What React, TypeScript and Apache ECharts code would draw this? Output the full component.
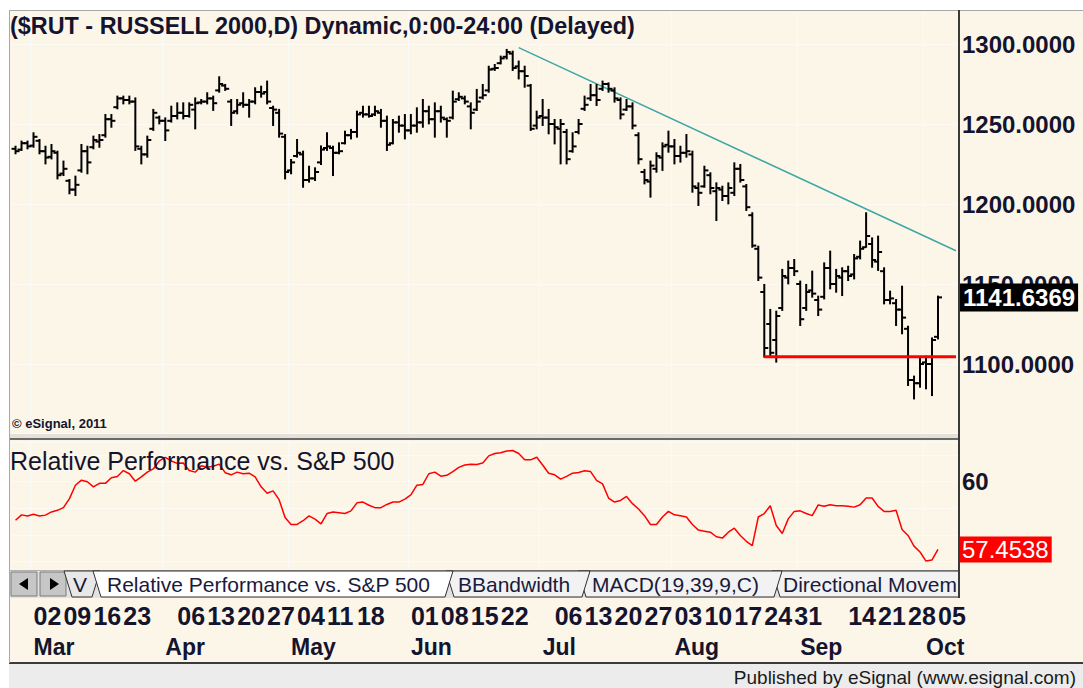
import React, { useEffect, useRef } from "react";
import * as echarts from "echarts";

// ---- categories (2015 trading days, MM-DD) ----
const dates = [
  "02-25","02-26","02-27",
  "03-02","03-03","03-04","03-05","03-06","03-09","03-10","03-11","03-12","03-13",
  "03-16","03-17","03-18","03-19","03-20","03-23","03-24","03-25","03-26","03-27","03-30","03-31",
  "04-01","04-02","04-06","04-07","04-08","04-09","04-10","04-13","04-14","04-15","04-16","04-17",
  "04-20","04-21","04-22","04-23","04-24","04-27","04-28","04-29","04-30",
  "05-01","05-04","05-05","05-06","05-07","05-08","05-11","05-12","05-13","05-14","05-15",
  "05-18","05-19","05-20","05-21","05-22","05-26","05-27","05-28","05-29",
  "06-01","06-02","06-03","06-04","06-05","06-08","06-09","06-10","06-11","06-12",
  "06-15","06-16","06-17","06-18","06-19","06-22","06-23","06-24","06-25","06-26","06-29","06-30",
  "07-01","07-02","07-06","07-07","07-08","07-09","07-10","07-13","07-14","07-15","07-16","07-17",
  "07-20","07-21","07-22","07-23","07-24","07-27","07-28","07-29","07-30","07-31",
  "08-03","08-04","08-05","08-06","08-07","08-10","08-11","08-12","08-13","08-14",
  "08-17","08-18","08-19","08-20","08-21","08-24","08-25","08-26","08-27","08-28","08-31",
  "09-01","09-02","09-03","09-04","09-08","09-09","09-10","09-11",
  "09-14","09-15","09-16","09-17","09-18","09-21","09-22","09-23","09-24","09-25",
  "09-28","09-29","09-30","10-01","10-02","10-05"
];
const padCats = ["pad1", "pad2", "pad3"];

// ---- $RUT daily OHLC ----
const opens = [
  1234.5,1234.0,1238.0,
  1236.5,1239.5,1233.0,1229.5,1232.0,1219.0,1214.5,1209.0,1221.0,1233.0,
  1235.5,1239.0,1243.0,1253.0,1260.5,1266.0,1265.0,1264.0,1234.5,1231.0,1247.0,1254.0,
  1252.0,1252.0,1255.0,1257.0,1255.0,1259.0,1263.5,1264.0,1266.0,1271.0,1274.0,1264.0,
  1258.0,1263.0,1262.0,1264.0,1270.0,1270.0,1260.0,1257.0,1242.0,
  1221.0,1230.0,1231.0,1215.0,1216.0,1226.0,1235.0,1235.0,1232.0,1238.0,1243.0,
  1245.0,1257.0,1256.0,1256.0,1257.0,1252.0,1238.0,1251.0,1249.0,
  1246.0,1249.0,1251.0,1258.0,1253.0,1258.0,1253.0,1254.0,1265.5,1266.0,
  1261.0,1259.0,1266.5,1271.0,1284.5,1288.0,1292.0,1294.0,1286.0,1283.0,1274.0,1249.0,
  1255.0,1254.0,1250.0,1247.0,1245.0,1233.0,1245.0,1259.5,1266.0,1268.0,1272.0,1275.0,
  1271.0,1265.0,1259.0,1261.0,1243.0,1220.0,1214.0,1222.0,1229.0,1237.0,
  1236.0,1230.0,1232.0,1231.0,1210.0,1211.0,1218.0,1208.0,1209.0,1205.0,
  1207.0,1222.0,1211.0,1193.0,1172.0,1145.0,1125.0,1115.0,1135.0,1154.0,1160.0,
  1150.0,1135.0,1146.0,1140.0,1142.0,1160.0,1150.0,1154.0,
  1158.0,1156.0,1167.0,1173.0,1175.0,1164.0,1158.0,1140.0,1138.0,1134.0,
  1122.0,1090.0,1088.0,1101.0,1100.0,1117.0
];
const highs = [
  1235.8,1239.0,1239.0,
  1244.2,1240.0,1235.8,1236.9,1232.7,1226.5,1215.0,1217.1,1236.9,1235.8,
  1242.1,1243.1,1255.6,1255.6,1267.1,1267.1,1267.1,1266.0,1235.8,1242.1,1258.8,1254.6,
  1253.5,1260.8,1262.9,1262.9,1262.9,1266.0,1265.0,1269.2,1267.1,1279.2,1274.4,1265.0,
  1265.0,1269.2,1265.0,1272.3,1273.3,1276.5,1260.8,1258.8,1243.1,
  1227.5,1240.0,1232.7,1223.3,1222.3,1236.0,1244.2,1235.8,1237.9,1245.2,1246.3,
  1257.7,1260.8,1260.8,1260.8,1258.8,1254.6,1252.5,1254.6,1255.6,
  1255.6,1259.8,1265.0,1260.8,1262.9,1260.8,1253.5,1270.2,1269.2,1267.1,
  1262.9,1271.3,1274.4,1285.8,1286.9,1292.1,1296.3,1295.2,1289.0,1285.8,1274.4,1257.7,
  1265.0,1258.8,1252.5,1252.5,1246.3,1244.2,1252.5,1267.1,1274.4,1274.4,1276.5,1275.4,
  1272.3,1266.0,1265.0,1262.9,1244.2,1221.3,1226.5,1231.7,1237.9,1245.2,
  1240.0,1235.8,1243.1,1232.7,1212.9,1223.3,1219.2,1212.9,1210.8,1212.9,
  1225.4,1224.4,1211.9,1194.2,1173.3,1149.4,1133.8,1132.7,1158.8,1164.0,1165.0,
  1151.5,1149.4,1157.7,1142.1,1162.9,1170.2,1158.8,1159.8,
  1160.8,1168.1,1176.5,1194.2,1178.5,1179.6,1159.8,1145.2,1140.0,1148.3,
  1123.3,1092.1,1103.5,1104.6,1116.0,1142.1
];
const lows = [
  1231.7,1233.8,1234.8,
  1235.8,1231.7,1225.4,1228.5,1216.0,1218.1,1206.7,1205.6,1220.2,1219.2,
  1234.8,1235.8,1242.1,1248.3,1259.8,1262.9,1262.9,1233.8,1225.4,1229.6,1246.3,1250.4,
  1240.0,1251.5,1253.5,1253.5,1254.6,1247.3,1262.9,1262.9,1258.8,1270.2,1271.3,1249.4,
  1256.7,1260.8,1254.6,1262.9,1267.1,1262.9,1249.4,1242.1,1216.0,
  1219.2,1229.6,1210.8,1214.0,1215.0,1225.0,1233.8,1218.1,1231.7,1237.9,1241.0,
  1242.1,1254.6,1254.6,1255.6,1248.3,1233.8,1237.9,1245.2,1241.0,
  1244.2,1245.2,1248.3,1250.4,1242.1,1251.5,1242.1,1253.5,1265.0,1262.9,
  1247.3,1258.8,1266.0,1270.2,1283.8,1287.9,1291.0,1283.8,1278.5,1273.3,1246.3,1247.3,
  1249.4,1244.2,1237.9,1225.4,1225.4,1232.7,1244.2,1258.8,1265.0,1261.9,1271.3,1270.2,
  1264.0,1253.5,1258.8,1247.3,1225.4,1212.9,1204.6,1220.2,1221.3,1232.7,
  1225.4,1226.5,1229.6,1207.7,1199.4,1210.8,1206.7,1190.0,1202.5,1200.4,
  1205.6,1214.0,1196.3,1173.3,1152.5,1104.6,1104.6,1101.5,1133.8,1150.4,1155.6,
  1124.4,1133.8,1142.1,1130.6,1141.0,1147.3,1145.2,1143.1,
  1152.5,1153.5,1166.0,1173.3,1160.8,1158.8,1137.9,1137.9,1124.4,1119.2,
  1086.9,1078.5,1085.8,1084.8,1080.6,1116.0
];
const closes = [
  1233.0,1238.0,1236.0,
  1242.0,1233.0,1229.0,1233.0,1218.0,1222.0,1209.0,1212.0,1233.0,1226.0,
  1240.0,1240.0,1253.0,1252.0,1266.0,1265.0,1264.0,1236.0,1231.0,1240.0,1257.0,1252.0,
  1246.0,1255.0,1257.0,1255.0,1262.0,1263.0,1264.0,1266.0,1263.0,1275.0,1272.0,1257.0,
  1262.0,1262.0,1264.0,1270.0,1269.0,1264.0,1259.0,1244.0,1220.0,
  1226.0,1232.0,1215.0,1216.0,1220.0,1234.0,1236.0,1232.0,1233.0,1243.0,1245.0,
  1256.0,1256.0,1255.0,1258.0,1252.0,1237.0,1251.0,1249.0,1246.0,
  1249.0,1251.0,1258.0,1253.0,1258.0,1254.0,1252.0,1264.0,1267.0,1264.0,
  1257.0,1264.0,1268.0,1284.0,1285.0,1291.0,1295.0,1285.0,1283.0,1280.0,1247.0,1254.0,
  1254.0,1250.0,1248.0,1250.0,1228.0,1236.0,1250.0,1262.0,1268.0,1265.0,1275.0,1272.0,
  1266.0,1256.0,1261.0,1249.0,1228.0,1215.0,1224.0,1230.0,1236.0,1236.0,
  1230.0,1232.0,1233.0,1211.0,1207.0,1221.0,1210.0,1210.0,1205.0,1210.0,
  1222.0,1215.0,1198.0,1174.0,1154.0,1110.0,1107.0,1130.0,1155.0,1160.0,1158.0,
  1128.0,1145.0,1144.0,1134.0,1160.0,1150.0,1155.0,1158.0,
  1155.0,1166.0,1172.0,1180.0,1165.0,1170.0,1140.0,1141.0,1134.0,1129.0,
  1090.0,1088.0,1100.0,1100.0,1115.0,1141.6369
];

// ---- Relative Performance vs. S&P 500 ----
const relPerf = [
  58.55,58.75,58.71,
  58.77,58.71,58.74,58.86,58.92,59.02,59.36,59.86,60.05,59.99,
  59.80,59.93,59.93,60.14,60.19,60.41,60.29,60.01,60.17,60.35,60.47,60.77,
  60.90,60.77,60.68,60.69,60.41,60.35,60.59,60.53,60.57,60.65,60.33,60.25,
  60.35,60.29,60.31,60.17,59.80,59.56,59.65,59.32,58.65,
  58.39,58.39,58.53,58.71,58.59,58.41,58.80,58.86,58.83,58.80,58.90,
  59.20,59.23,59.11,59.02,59.02,59.14,59.23,59.23,59.34,
  59.50,59.86,59.89,60.29,60.35,60.20,60.23,60.37,60.53,60.62,
  60.65,60.64,60.69,60.96,61.05,61.08,61.14,61.16,61.05,60.81,60.81,60.91,
  60.62,60.31,60.25,60.09,60.19,60.31,60.34,60.40,60.37,60.04,59.91,59.38,
  59.23,59.29,59.44,59.17,58.97,58.72,58.39,58.39,58.67,58.88,
  58.75,58.72,58.67,58.39,58.18,58.14,58.10,57.93,57.88,58.10,
  58.25,57.98,57.76,57.60,58.67,58.80,59.09,58.35,58.05,58.60,58.88,
  58.90,58.80,58.72,59.12,59.07,59.13,59.09,59.09,
  59.07,59.04,59.13,59.38,59.38,59.07,58.88,58.88,58.92,58.20,
  57.98,57.58,57.36,57.02,57.06,57.4538
];

// ---- annotations / tick labels ----
const trendLine = [["06-25", 1297.7], ["pad3", 1170.8]];
const supportLine = [["08-24", 1104.5], ["pad3", 1104.5]];
const lastPrice = 1141.6369;
const lastRel = 57.4538;
const priceTicks = [1100, 1150, 1200, 1250, 1300];
const relTicks = [60];
const dayTickDates = [
  "03-02","03-09","03-16","03-23","04-06","04-13","04-20","04-27",
  "05-04","05-11","05-18","06-01","06-08","06-15","06-22",
  "07-06","07-13","07-20","07-27","08-03","08-10","08-17","08-24","08-31",
  "09-14","09-21","09-28","10-05"
];
const monthStartDates = ["03-02","04-01","05-01","06-01","07-01","08-03","09-01","10-01"];
const monthNames = ["Mar","Apr","May","Jun","Jul","Aug","Sep","Oct"];

const FONT = '"Liberation Sans", Arial, Helvetica, sans-serif';
const CREAM = "#fcf6e9";
const INK = "#14142e";

export default function App() {
  const ref = useRef<HTMLDivElement>(null);

  useEffect(() => {
    document.body.style.margin = "0";
    const chart = echarts.init(ref.current as HTMLDivElement, null, { renderer: "svg" });
    const cats = [...dates, ...padCats];
    const ohlc = dates.map((d, i) => [i, opens[i], highs[i], lows[i], closes[i]]);
    const rel = dates.map((d, i) => [i, relPerf[i]]);
    const gridLeft = 12.54;
    const gridWidth = 946.42;

    const monthSplit = (idx: number, val: string) => monthStartDates.includes(val);
    const splitStyle = { color: "#ffffff", type: "dotted" as const, width: 1 };

    const tabPoly = (points: number[][], fill: string, z: number) => ({
      type: "polygon", z, shape: { points },
      style: { fill, stroke: "#303030", lineWidth: 1 },
    });
    const tab = (x1: number, x2: number, fill: string, z: number) =>
      tabPoly([[x1, 571], [x2, 571], [x2 - 8, 597], [x1 + 8, 597]], fill, z);
    const tabText = (x: number, text: string, z: number) => ({
      type: "text", z, x, y: 584,
      style: { text, fill: "#1a1a3c", font: `21px ${FONT}`, verticalAlign: "middle", align: "left" },
    });

    const option: any = {
      animation: false,
      backgroundColor: CREAM,
      grid: [
        { left: gridLeft, width: gridWidth, top: 10, height: 423, outerBoundsMode: "none" },
        { left: gridLeft, width: gridWidth, top: 442, height: 128, outerBoundsMode: "none" },
      ],
      xAxis: [
        {
          type: "category", gridIndex: 0, data: cats, boundaryGap: true,
          axisLine: { show: false }, axisTick: { show: false }, axisLabel: { show: false },
          splitLine: { show: true, interval: monthSplit, lineStyle: splitStyle },
        },
        {
          type: "category", gridIndex: 1, data: cats, boundaryGap: true, position: "bottom",
          axisLine: { show: false }, axisTick: { show: false },
          splitLine: { show: true, interval: monthSplit, lineStyle: splitStyle },
          axisLabel: {
            interval: (idx: number, val: string) => dayTickDates.includes(val),
            formatter: (val: string) => val.slice(3, 5),
            align: "left", verticalAlign: "middle", margin: 46,
            fontFamily: FONT, fontSize: 25, fontWeight: "bold", color: INK,
          },
        },
        {
          type: "category", gridIndex: 1, data: cats, boundaryGap: true, position: "bottom",
          axisLine: { show: false }, axisTick: { show: false }, splitLine: { show: false },
          axisLabel: {
            interval: (idx: number, val: string) => monthStartDates.includes(val),
            formatter: (val: string) => monthNames[monthStartDates.indexOf(val)] || "",
            align: "left", verticalAlign: "middle", margin: 77,
            fontFamily: FONT, fontSize: 23, fontWeight: "bold", color: INK,
          },
        },
      ],
      yAxis: [
        {
          type: "value", gridIndex: 0, position: "right", min: 1056.875, max: 1321.25, scale: true,
          axisLine: { show: false }, axisTick: { show: false },
          splitLine: { show: true, lineStyle: splitStyle },
          axisLabel: {
            margin: 3, fontFamily: FONT, fontSize: 24, fontWeight: "bold", color: INK,
            formatter: (v: number) => (priceTicks.includes(Math.round(v * 1000) / 1000) ? v.toFixed(4) : ""),
          },
        },
        {
          type: "value", gridIndex: 1, position: "right", min: 56.685, max: 61.479, scale: true,
          axisLine: { show: false }, axisTick: { show: false },
          splitLine: { show: true, lineStyle: splitStyle },
          axisLabel: {
            margin: 3, fontFamily: FONT, fontSize: 24, fontWeight: "bold", color: INK,
            formatter: (v: number) => (relTicks.includes(Math.round(v * 1000) / 1000) ? String(v) : ""),
          },
        },
      ],
      series: [
        {
          type: "custom", name: "RUT", xAxisIndex: 0, yAxisIndex: 0,
          data: ohlc, encode: { x: 0, y: [1, 2, 3, 4] }, z: 3,
          renderItem: (params: any, api: any) => {
            const i = api.value(0);
            const o = api.coord([i, api.value(1)]);
            const h = api.coord([i, api.value(2)]);
            const l = api.coord([i, api.value(3)]);
            const c = api.coord([i, api.value(4)]);
            const x = h[0];
            const style = { stroke: "#000000", lineWidth: 2 };
            return {
              type: "group",
              children: [
                { type: "line", shape: { x1: x, y1: h[1] - 1, x2: x, y2: l[1] + 1 }, style },
                { type: "line", shape: { x1: x - 4, y1: o[1], x2: x, y2: o[1] }, style },
                { type: "line", shape: { x1: x, y1: c[1], x2: x + 4, y2: c[1] }, style },
              ],
            };
          },
        },
        {
          type: "line", name: "trend", xAxisIndex: 0, yAxisIndex: 0, data: trendLine,
          symbol: "none", lineStyle: { color: "#3ea6a6", width: 1.5 }, z: 2, silent: true,
        },
        {
          type: "line", name: "support", xAxisIndex: 0, yAxisIndex: 0, data: supportLine,
          symbol: "none", lineStyle: { color: "#ff0000", width: 3 }, z: 4, silent: true,
          markLine: {
            silent: true, symbol: ["none", "none"], z: 10,
            lineStyle: { color: "rgba(0,0,0,0)", width: 0, type: "solid" },
            label: {
              show: true, position: "end", distance: 1, formatter: lastPrice.toFixed(4),
              backgroundColor: "#000000", color: "#ffffff", fontFamily: FONT, fontSize: 24,
              fontWeight: "bold", padding: [3, 3, 1, 3],
            },
            emphasis: { disabled: true },
            data: [{ yAxis: lastPrice }],
          },
        },
        {
          type: "line", name: "Relative Performance", xAxisIndex: 1, yAxisIndex: 1, data: rel,
          symbol: "none", lineStyle: { color: "#ff0000", width: 1.5 }, silent: true, z: 4,
          markLine: {
            silent: true, symbol: ["none", "none"], z: 10,
            lineStyle: { color: "rgba(0,0,0,0)", width: 0, type: "solid" },
            label: {
              show: true, position: "end", distance: 1, formatter: lastRel.toFixed(4),
              backgroundColor: "#ff0000", color: "#ffffff", fontFamily: FONT, fontSize: 24,
              padding: [2, 3, 0, 2],
            },
            emphasis: { disabled: true },
            data: [{ yAxis: lastRel }],
          },
        },
      ],
      graphic: [
        // page margins and frame
        { type: "rect", z: 50, shape: { x: 0, y: 0, width: 1083, height: 10 }, style: { fill: "#ffffff" } },
        { type: "rect", z: 50, shape: { x: 0, y: 0, width: 9, height: 688 }, style: { fill: "#ffffff" } },
        { type: "line", z: 51, shape: { x1: 9, y1: 10.5, x2: 1083, y2: 10.5 }, style: { stroke: "#a8a8a8", lineWidth: 1 } },
        { type: "line", z: 51, shape: { x1: 9.5, y1: 10, x2: 9.5, y2: 663 }, style: { stroke: "#a8a8a8", lineWidth: 1 } },
        // panel separator
        { type: "rect", z: 50, shape: { x: 10, y: 434, width: 949, height: 4 }, style: { fill: "#e4e1da" } },
        { type: "rect", z: 50, shape: { x: 10, y: 438, width: 949, height: 2 }, style: { fill: "#6a6a6a" } },
        // tab bar
        { type: "rect", z: 50, shape: { x: 10, y: 570, width: 949, height: 28 }, style: { fill: "#e2e2e2" } },
        { type: "line", z: 51, shape: { x1: 10, y1: 570.5, x2: 959, y2: 570.5 }, style: { stroke: "#b0b0b0", lineWidth: 1 } },
        { type: "rect", z: 52, shape: { x: 11, y: 572, width: 26, height: 24 }, style: { fill: "#c6c6c6", stroke: "#7a7a7a", lineWidth: 1 } },
        { type: "rect", z: 52, shape: { x: 40, y: 572, width: 26, height: 24 }, style: { fill: "#c6c6c6", stroke: "#7a7a7a", lineWidth: 1 } },
        { type: "polygon", z: 53, shape: { points: [[19, 584], [28, 578], [28, 590]] }, style: { fill: "#000000" } },
        { type: "polygon", z: 53, shape: { points: [[50, 578], [59, 584], [50, 590]] }, style: { fill: "#000000" } },
        tab(64, 100, "#e8e8e8", 52), tabText(73, "V", 53),
        tabPoly([[772, 571], [959, 571], [959, 597], [780, 597]], "#f2f2f2", 54), tabText(783, "Directional Movem", 55),
        tab(578, 782, "#f2f2f2", 56), tabText(592, "MACD(19,39,9,C)", 57),
        tab(446, 590, "#f2f2f2", 58), tabText(458, "BBandwidth", 59),
        tab(93, 453, "#ffffff", 60), tabText(107, "Relative Performance vs. S&P 500", 61),
        // right axis rule
        { type: "line", z: 63, shape: { x1: 959, y1: 10, x2: 959, y2: 598 }, style: { stroke: "#3a3a3a", lineWidth: 2 } },
        // footer
        { type: "line", z: 50, shape: { x1: 9, y1: 663, x2: 1083, y2: 663 }, style: { stroke: "#3a3a3a", lineWidth: 2 } },
        { type: "rect", z: 50, shape: { x: 9, y: 664, width: 1074, height: 24 }, style: { fill: "#ececec" } },
        { type: "text", z: 51, x: 1076, y: 677, style: { text: "Published by eSignal (www.esignal.com)", fill: "#1a1a1a", font: `19px ${FONT}`, align: "right", verticalAlign: "middle" } },
        // titles
        { type: "text", z: 40, x: 10, y: 26, style: { text: "($RUT - RUSSELL 2000,D) Dynamic,0:00-24:00 (Delayed)", fill: INK, font: `bold 23.4px ${FONT}`, verticalAlign: "middle" } },
        { type: "text", z: 40, x: 12, y: 423, style: { text: "\u00a9 eSignal, 2011", fill: INK, font: `bold 13px ${FONT}`, verticalAlign: "middle" } },
        { type: "text", z: 40, x: 10, y: 461, style: { text: "Relative Performance vs. S&P 500", fill: INK, font: `25px ${FONT}`, verticalAlign: "middle" } },
      ],
    };

    chart.setOption(option);
    return () => chart.dispose();
  }, []);

  return <div ref={ref} style={{ width: 1083, height: 688 }} />;
}
